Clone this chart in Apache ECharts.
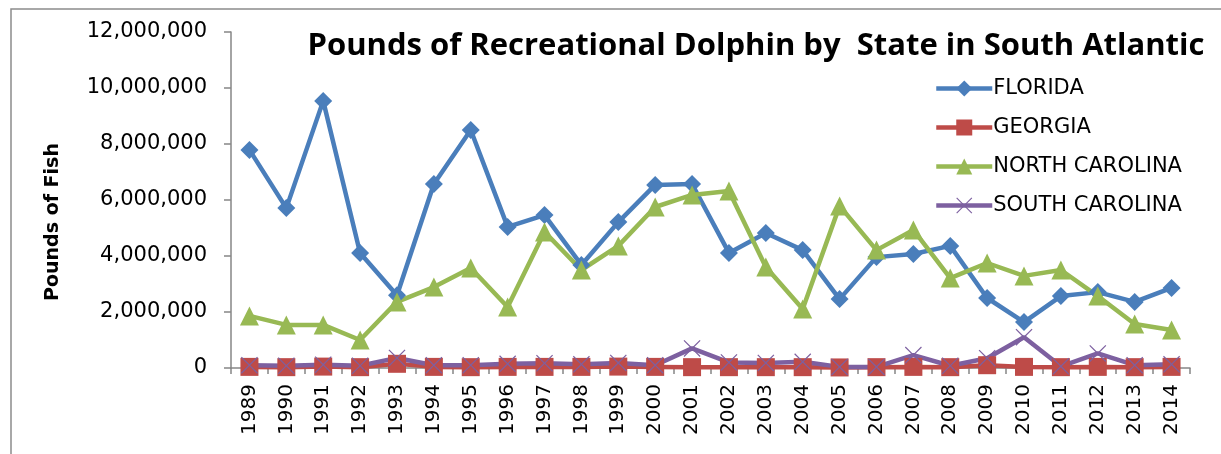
<!DOCTYPE html>
<html>
<head>
<meta charset="utf-8">
<script src="https://cdn.jsdelivr.net/npm/echarts@6/dist/echarts.min.js"></script>
<style>
  html, body { margin: 0; padding: 0; background: #fff; }
  #main { width: 1221px; height: 454px; }
</style>
</head>
<body>
<div id="main"></div>
<script>
// chart data
const years = ['1989', '1990', '1991', '1992', '1993', '1994', '1995', '1996', '1997', '1998', '1999', '2000', '2001',
    '2002', '2003', '2004', '2005', '2006', '2007', '2008', '2009', '2010', '2011', '2012', '2013', '2014'];
const florida = [7790000, 5710000, 9540000, 4110000, 2600000, 6570000, 8500000, 5040000, 5460000, 3680000, 5210000,
    6540000, 6570000, 4110000, 4820000, 4210000, 2460000, 3960000, 4070000, 4360000, 2500000, 1640000, 2570000,
    2710000, 2360000, 2860000];
const georgia = [40000, 30000, 50000, 30000, 150000, 40000, 30000, 40000, 40000, 40000, 50000, 40000, 30000,
    30000, 30000, 30000, 20000, 30000, 40000, 30000, 100000, 40000, 30000, 40000, 30000, 40000];
const northCarolina = [1860000, 1540000, 1540000, 1000000, 2360000, 2890000, 3570000, 2180000, 4860000, 3500000,
    4360000, 5750000, 6180000, 6320000, 3610000, 2110000, 5790000, 4210000, 4930000, 3210000, 3750000, 3290000,
    3500000, 2570000, 1570000, 1360000];
const southCarolina = [100000, 80000, 120000, 80000, 360000, 100000, 100000, 150000, 170000, 130000, 180000, 100000,
    700000, 200000, 180000, 220000, 40000, 40000, 460000, 80000, 350000, 1100000, 60000, 520000, 100000, 130000];
const yTicks = [0, 2000000, 4000000, 6000000, 8000000, 10000000, 12000000];

const colors = ['#4A7EBB', '#BE4B48', '#98B954', '#7D60A0'];
const xMark = 'path://M0,1 L1,0 L10,9 L19,0 L20,1 L11,10 L20,19 L19,20 L10,11 L1,20 L0,19 L9,10 Z';

const myChart = echarts.init(document.getElementById('main'));

const lineSeries = (name, data, symbol, size, idx) => ({
    name: name,
    type: 'line',
    data: data,
    symbol: symbol,
    symbolSize: size,
    showAllSymbol: true,
    lineStyle: {width: 4.5, color: colors[idx]},
    itemStyle: {color: colors[idx]},
    emphasis: {disabled: true}
});

myChart.setOption({
    animation: false,
    color: colors,
    title: {
        text: 'Pounds of Recreational Dolphin by  State in South Atlantic',
        left: 751,
        top: 26,
        textAlign: 'center',
        textStyle: {fontFamily: 'Open Sans', fontWeight: 'bold', fontSize: 31, color: '#000'}
    },
    legend: {
        orient: 'vertical',
        left: 929,
        top: 73,
        itemWidth: 56,
        itemHeight: 20,
        itemGap: 18,
        lineStyle: {width: 4.5},
        textStyle: {fontFamily: 'DejaVu Sans', fontSize: 21, color: '#000', padding: [0, 0, 0, -4]},
        data: ['FLORIDA', 'GEORGIA', 'NORTH CAROLINA', 'SOUTH CAROLINA']
    },
    graphic: [{
        type: 'rect',
        shape: {x: 11, y: 9, width: 1400, height: 600},
        style: {fill: 'none', stroke: '#8c8c8c', lineWidth: 1.5},
        silent: true
    }],
    grid: {left: 231, top: 32, right: 31, bottom: 86, containLabel: false},
    xAxis: {
        type: 'category',
        data: years,
        boundaryGap: true,
        axisLine: {lineStyle: {color: '#868686', width: 1.5}},
        axisTick: {show: true, length: 6, interval: 0, lineStyle: {color: '#868686', width: 1.5}},
        axisLabel: {
            rotate: 90, interval: 0, margin: 16,
            fontFamily: 'DejaVu Sans', fontSize: 20, color: '#000'
        },
        splitLine: {show: false}
    },
    yAxis: {
        type: 'value',
        min: yTicks[0],
        max: yTicks[yTicks.length - 1],
        interval: yTicks[1] - yTicks[0],
        name: 'Pounds of Fish',
        nameLocation: 'middle',
        nameGap: 168,
        nameTextStyle: {fontFamily: 'DejaVu Sans', fontWeight: 'bold', fontSize: 19, color: '#000', padding: [0, 44, 0, 0]},
        axisLine: {show: true, lineStyle: {color: '#868686', width: 1.5}},
        axisTick: {show: true, length: 7, lineStyle: {color: '#868686', width: 1.5}},
        axisLabel: {
            margin: 24,
            fontFamily: 'DejaVu Sans', fontSize: 21, color: '#000',
            formatter: v => v.toLocaleString('en-US')
        },
        splitLine: {show: false}
    },
    series: [
        lineSeries('FLORIDA', florida, 'diamond', 18, 0),
        lineSeries('GEORGIA', georgia, 'rect', 18, 1),
        lineSeries('NORTH CAROLINA', northCarolina, 'triangle', 19, 2),
        lineSeries('SOUTH CAROLINA', southCarolina, xMark, 17, 3)
    ]
});
</script>
</body>
</html>
